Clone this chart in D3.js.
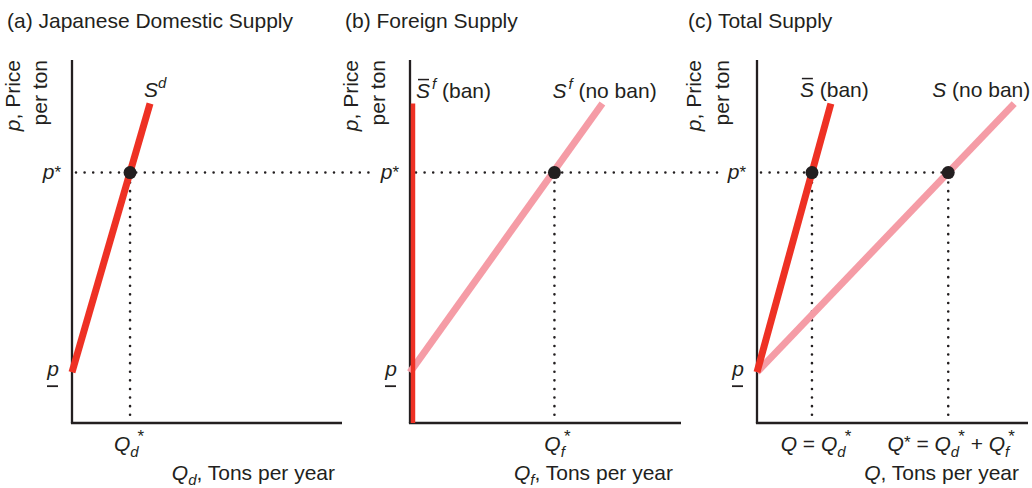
<!DOCTYPE html>
<html><head><meta charset="utf-8">
<script src="https://cdn.jsdelivr.net/npm/d3@7"></script>
<style>
html,body{margin:0;padding:0;background:#fff;}
svg{display:block;font-family:"Liberation Sans",Arial,Helvetica,sans-serif;}
</style></head>
<body>
<svg id="c" width="1032" height="488"></svg>
<script>
// ---------- data ----------
const panelTitles = ["(a) Japanese Domestic Supply", "(b) Foreign Supply", "(c) Total Supply"];
const priceTicks = [14, 69];            // p (minimum price), p* (equilibrium)
const priceTop = 88;
const domesticSupply = [[0, 14], [28.9, 88]];
const foreignSupplyNoBan = [[0, 14], [71, 88]];
const foreignSupplyBan = [[1.1, 0], [1.1, 88]];
const totalSupplyBan = [[0, 14], [28.9, 88]];
const totalSupplyNoBan = [[0, 14], [100.6, 88]];
const eqQuantities = [21.5, 53.3, 74.8];   // Qd*, Qf*, Q* = Qd* + Qf*
const eqPrice = 69;
const qDomainMax = [100, 100, 106];

// ---------- layout ----------
const RED = "#ee3124", PINK = "#f59ca6", INK = "#231f20";
const FS = 21;
const svg = d3.select("#c");
const yTop = 60, yBot = 423;
const xRanges = [[72, 342], [410, 681], [757, 1028]];
const y = d3.scaleLinear().domain([0, 100]).range([yBot, yTop]);
const xs = xRanges.map((r, i) => d3.scaleLinear().domain([0, qDomainMax[i]]).range(r));
const line = (x) => d3.line().x(d => x(d[0])).y(d => y(d[1]));

function rich(g, x, yy, anchor, segs, fs) {
  const t = g.append("text").attr("x", x).attr("y", yy).attr("text-anchor", anchor)
    .attr("font-size", fs || FS).attr("fill", INK);
  let cur = 0;
  segs.forEach(s => {
    const shift = s.shift || 0;
    const ts = t.append("tspan").text(s.t)
      .attr("font-style", s.it ? "italic" : "normal")
      .attr("font-size", s.size || fs || FS)
      .attr("dy", shift - cur);
    if (s.dx) ts.attr("dx", s.dx);
    cur = shift;
  });
  return t;
}
const Qsub = (sub, sh) => [{t: "Q", it: true}, {t: sub, it: true, shift: sh || 6, size: 15}];
const star = (dx) => ({t: "*", shift: -9, size: 17, dx: dx});

// titles
const titleX = [7, 345, 688];
panelTitles.forEach((t, i) => {
  svg.append("text").attr("x", titleX[i]).attr("y", 28).attr("font-size", 21)
    .attr("fill", INK).text(t);
});

// axes & axis labels per panel
xs.forEach((x, i) => {
  const g = svg.append("g");
  const ax0 = x.range()[0];
  g.append("g").attr("transform", `translate(${ax0},0)`)
    .call(d3.axisLeft(y).tickValues([]).tickSizeOuter(0).tickSize(0))
    .call(a => a.select(".domain").attr("stroke", INK).attr("stroke-width", 2.3)
      .attr("d", `M0,${yTop}V${yBot}`));
  g.append("g").attr("transform", `translate(0,${yBot})`)
    .call(d3.axisBottom(x).tickValues([]).tickSizeOuter(0).tickSize(0))
    .call(a => a.select(".domain").attr("stroke", INK).attr("stroke-width", 2.3)
      .attr("d", `M${ax0 - 1.1},0H${x.range()[1]}`));
  // rotated y labels
  const offs = [[-52, -25], [-52, -25], [-56, -28]][i];
  rich(g, 0, 0, "end", [{t: "p", it: true}, {t: ", Price"}])
    .attr("transform", `translate(${ax0 + offs[0]},${yTop}) rotate(-90)`);
  rich(g, 0, 0, "end", [{t: "per ton"}])
    .attr("transform", `translate(${ax0 + offs[1]},${yTop}) rotate(-90)`);
  // price tick labels
  const lx = ax0 - 11;
  rich(g, lx, y(priceTicks[1]) + 6, "end", [{t: "p", it: true}, {t: "*", size: 17, shift: -1}]);
  rich(g, lx - 2, y(priceTicks[0]) + 4, "end", [{t: "p", it: true}]);
  g.append("line").attr("x1", lx - 14).attr("x2", lx - 3)
    .attr("y1", y(priceTicks[0]) + 14).attr("y2", y(priceTicks[0]) + 14)
    .attr("stroke", INK).attr("stroke-width", 1.8);
});

// dotted guide lines
const dot = {stroke: INK, "stroke-width": 2.6, "stroke-linecap": "round", "stroke-dasharray": "0 8.6"};
function dotted(x1, y1, x2, y2) {
  const l = svg.append("line").attr("x1", x1).attr("y1", y1).attr("x2", x2).attr("y2", y2);
  Object.entries(dot).forEach(([k, v]) => l.attr(k, v));
}
const yp = y(eqPrice);
dotted(xs[0].range()[0] + 4, yp, xs[1].range()[0] - 36, yp);
dotted(xs[1].range()[0] + 6, yp, xs[2].range()[0] - 36, yp);
dotted(xs[2].range()[0] + 4, yp, xs[2](eqQuantities[2]), yp);

dotted(xs[0](eqQuantities[0]), yp + 10, xs[0](eqQuantities[0]), yBot - 2);
dotted(xs[1](eqQuantities[1]), yp + 10, xs[1](eqQuantities[1]), yBot - 2);
dotted(xs[2](eqQuantities[0]), yp + 10, xs[2](eqQuantities[0]), yBot - 2);
dotted(xs[2](eqQuantities[2]), yp + 10, xs[2](eqQuantities[2]), yBot - 2);

// supply curves
function curve(x, data, color, w) {
  svg.append("path").datum(data).attr("d", line(x)).attr("fill", "none")
    .attr("stroke", color).attr("stroke-width", w || 7).attr("stroke-linecap", "butt");
}
curve(xs[0], domesticSupply, RED);
curve(xs[1], foreignSupplyNoBan, PINK);
curve(xs[1], foreignSupplyBan, RED, 4.5);
curve(xs[2], totalSupplyNoBan, PINK);
curve(xs[2], totalSupplyBan, RED);

// equilibrium points
[[xs[0], eqQuantities[0]], [xs[1], eqQuantities[1]], [xs[2], eqQuantities[0]], [xs[2], eqQuantities[2]]]
  .forEach(([x, q]) => svg.append("circle").attr("cx", x(q)).attr("cy", yp).attr("r", 6.5).attr("fill", INK));

// curve labels
const ly = y(priceTop) - 7;
rich(svg, xs[0](domesticSupply[1][0]) - 6, ly, "start", [{t: "S", it: true}, {t: "d", it: true, shift: -9, size: 15}]);
function barS(x0, yy) {
  svg.append("line").attr("x1", x0 + 2).attr("x2", x0 + 13).attr("y1", yy - 18).attr("y2", yy - 18)
    .attr("stroke", INK).attr("stroke-width", 1.5);
}
rich(svg, xs[1].range()[0] + 6, ly + 1, "start", [{t: "S", it: true}, {t: "f", it: true, shift: -9, size: 15, dx: 2}, {t: " (ban)", shift: 0}]);
barS(xs[1].range()[0] + 6, ly + 1);
rich(svg, xs[1](foreignSupplyNoBan[1][0]) - 50, ly + 1, "start", [{t: "S", it: true}, {t: "f", it: true, shift: -9, size: 15, dx: 2}, {t: " (no ban)", shift: 0}]);
rich(svg, xs[2](totalSupplyBan[1][0]) - 31, ly, "start", [{t: "S", it: true}, {t: " (ban)"}]);
barS(xs[2](totalSupplyBan[1][0]) - 31, ly);
rich(svg, xs[2](totalSupplyNoBan[1][0]) - 82, ly, "start", [{t: "S", it: true}, {t: " (no ban)"}]);

// quantity labels
const qy = 451, ay = 480;
rich(svg, xs[0](eqQuantities[0]) - 1, qy, "middle", [...Qsub("d"), star(-1)]);
rich(svg, xs[1](eqQuantities[1]) + 3, qy, "middle", [...Qsub("f"), star(-1)]);
rich(svg, xs[2](eqQuantities[0]) + 4, qy, "middle",
  [{t: "Q", it: true}, {t: " = "}, ...Qsub("d"), star(-1)]);
rich(svg, xs[2](eqQuantities[2]) + 3, qy, "middle",
  [{t: "Q", it: true}, {t: "*", size: 17, shift: -3}, {t: " = ", shift: 0}, ...Qsub("d"), star(-1),
   {t: " + ", shift: 0}, ...Qsub("f"), star(-1)]);
rich(svg, xs[0].range()[1] - 7, ay, "end", [...Qsub("d", 5), {t: ", Tons per year", shift: 0}]);
rich(svg, xs[1].range()[1] - 8, ay, "end", [...Qsub("f", 5), {t: ", Tons per year", shift: 0}]);
rich(svg, xs[2].range()[1] - 9, ay, "end", [{t: "Q", it: true}, {t: ", Tons per year"}]);
</script>
</body></html>
